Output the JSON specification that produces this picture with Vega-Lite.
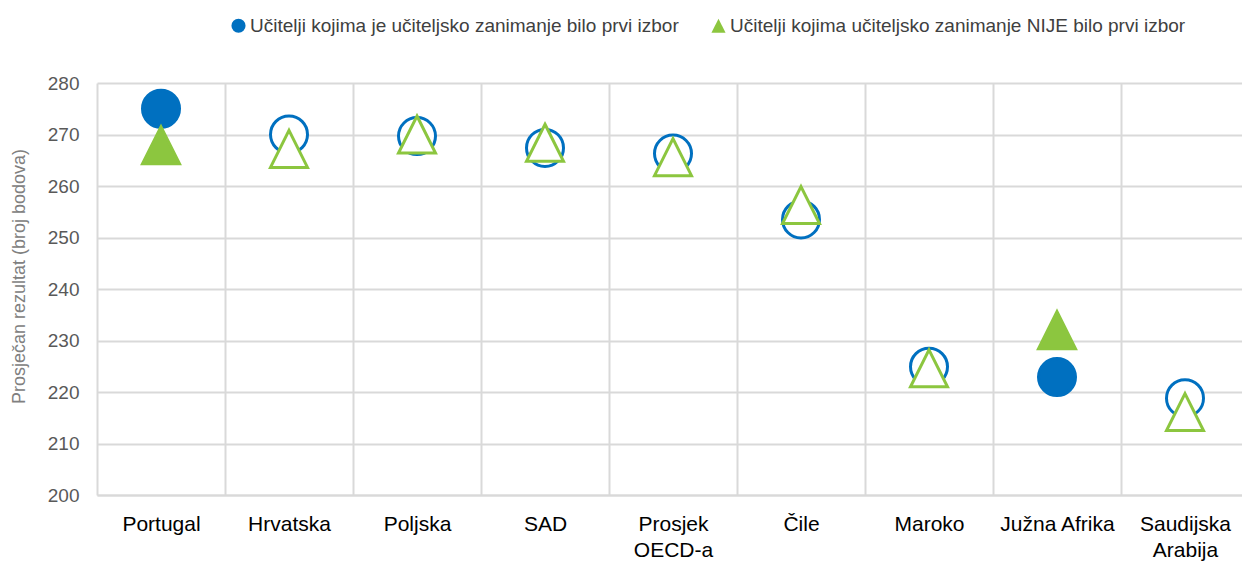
{
  "$schema": "https://vega.github.io/schema/vega-lite/v6.json",
  "width": 1152,
  "height": 412,
  "autosize": {"type": "none"},
  "padding": {"left": 97, "top": 83, "right": 0, "bottom": 71},
  "background": "white",
  "config": {
    "view": {"stroke": null},
    "font": "Liberation Sans, Arial, sans-serif"
  },
  "data": {
    "values": [
      {"country": "Portugal", "series": "Učitelji kojima je učiteljsko zanimanje bilo prvi izbor", "value": 275, "sig": true},
      {"country": "Hrvatska", "series": "Učitelji kojima je učiteljsko zanimanje bilo prvi izbor", "value": 270, "sig": false},
      {"country": "Poljska", "series": "Učitelji kojima je učiteljsko zanimanje bilo prvi izbor", "value": 269.7, "sig": false},
      {"country": "SAD", "series": "Učitelji kojima je učiteljsko zanimanje bilo prvi izbor", "value": 267.4, "sig": false},
      {"country": "Prosjek OECD-a", "series": "Učitelji kojima je učiteljsko zanimanje bilo prvi izbor", "value": 266.3, "sig": false},
      {"country": "Čile", "series": "Učitelji kojima je učiteljsko zanimanje bilo prvi izbor", "value": 253.5, "sig": false},
      {"country": "Maroko", "series": "Učitelji kojima je učiteljsko zanimanje bilo prvi izbor", "value": 224.9, "sig": false},
      {"country": "Južna Afrika", "series": "Učitelji kojima je učiteljsko zanimanje bilo prvi izbor", "value": 222.9, "sig": true},
      {"country": "Saudijska Arabija", "series": "Učitelji kojima je učiteljsko zanimanje bilo prvi izbor", "value": 218.8, "sig": false},
      {"country": "Portugal", "series": "Učitelji kojima učiteljsko zanimanje NIJE bilo prvi izbor", "value": 267.9, "sig": true},
      {"country": "Hrvatska", "series": "Učitelji kojima učiteljsko zanimanje NIJE bilo prvi izbor", "value": 267.2, "sig": false},
      {"country": "Poljska", "series": "Učitelji kojima učiteljsko zanimanje NIJE bilo prvi izbor", "value": 270, "sig": false},
      {"country": "SAD", "series": "Učitelji kojima učiteljsko zanimanje NIJE bilo prvi izbor", "value": 268.4, "sig": false},
      {"country": "Prosjek OECD-a", "series": "Učitelji kojima učiteljsko zanimanje NIJE bilo prvi izbor", "value": 265.6, "sig": false},
      {"country": "Čile", "series": "Učitelji kojima učiteljsko zanimanje NIJE bilo prvi izbor", "value": 256.3, "sig": false},
      {"country": "Maroko", "series": "Učitelji kojima učiteljsko zanimanje NIJE bilo prvi izbor", "value": 224.6, "sig": false},
      {"country": "Južna Afrika", "series": "Učitelji kojima učiteljsko zanimanje NIJE bilo prvi izbor", "value": 232, "sig": true},
      {"country": "Saudijska Arabija", "series": "Učitelji kojima učiteljsko zanimanje NIJE bilo prvi izbor", "value": 216.1, "sig": false}
    ]
  },
  "mark": {"type": "point", "size": 1369, "strokeWidth": 3, "opacity": 1, "clip": false},
  "encoding": {
    "x": {
      "field": "country",
      "type": "nominal",
      "sort": null,
      "scale": {"paddingInner": 0, "paddingOuter": 0},
      "axis": {
        "title": null,
        "labelAngle": 0,
        "grid": true,
        "tickBand": "extent",
        "gridColor": "#d9d9d9",
        "gridWidth": 2,
        "ticks": false,
        "domainColor": "#d9d9d9",
        "domainWidth": 2,
        "labelFontSize": 21,
        "labelColor": "#000000",
        "labelPadding": 18,
        "labelBaseline": "top",
        "labelLineHeight": 26,
        "labelExpr": "datum.label == 'Prosjek OECD-a' ? ['Prosjek', 'OECD-a'] : datum.label == 'Saudijska Arabija' ? ['Saudijska', 'Arabija'] : datum.label"
      }
    },
    "y": {
      "field": "value",
      "type": "quantitative",
      "scale": {"domain": [200, 280], "nice": false, "zero": false},
      "axis": {
        "title": "Prosječan rezultat (broj bodova)",
        "titleFontSize": 18,
        "titleFontWeight": "normal",
        "titleColor": "#808080",
        "titleX": -69,
        "titleY": 193,
        "values": [200, 210, 220, 230, 240, 250, 260, 270, 280],
        "grid": true,
        "gridColor": "#d9d9d9",
        "gridWidth": 2,
        "domain": false,
        "ticks": false,
        "labelFontSize": 19,
        "labelColor": "#595959",
        "labelPadding": 18
      }
    },
    "shape": {
      "field": "series",
      "type": "nominal",
      "scale": {
        "domain": ["Učitelji kojima je učiteljsko zanimanje bilo prvi izbor", "Učitelji kojima učiteljsko zanimanje NIJE bilo prvi izbor"],
        "range": ["circle", "M0,-1L1,1L-1,1Z"]
      },
      "legend": {
        "title": null,
        "orient": "none",
        "direction": "horizontal",
        "legendX": 132,
        "legendY": -67,
        "symbolSize": 200,
        "symbolStrokeWidth": 0,
        "labelFontSize": 19,
        "labelColor": "#404040",
        "labelLimit": 700,
        "labelOffset": 2,
        "columnPadding": 30
      }
    },
    "stroke": {
      "field": "series",
      "type": "nominal",
      "scale": {
        "domain": ["Učitelji kojima je učiteljsko zanimanje bilo prvi izbor", "Učitelji kojima učiteljsko zanimanje NIJE bilo prvi izbor"],
        "range": ["#0070C0", "#8CC63F"]
      }
    },
    "fill": {
      "condition": {
        "test": "datum.sig",
        "field": "series",
        "type": "nominal",
        "scale": {
          "domain": ["Učitelji kojima je učiteljsko zanimanje bilo prvi izbor", "Učitelji kojima učiteljsko zanimanje NIJE bilo prvi izbor"],
          "range": ["#0070C0", "#8CC63F"]
        }
      },
      "value": "white"
    }
  }
}
